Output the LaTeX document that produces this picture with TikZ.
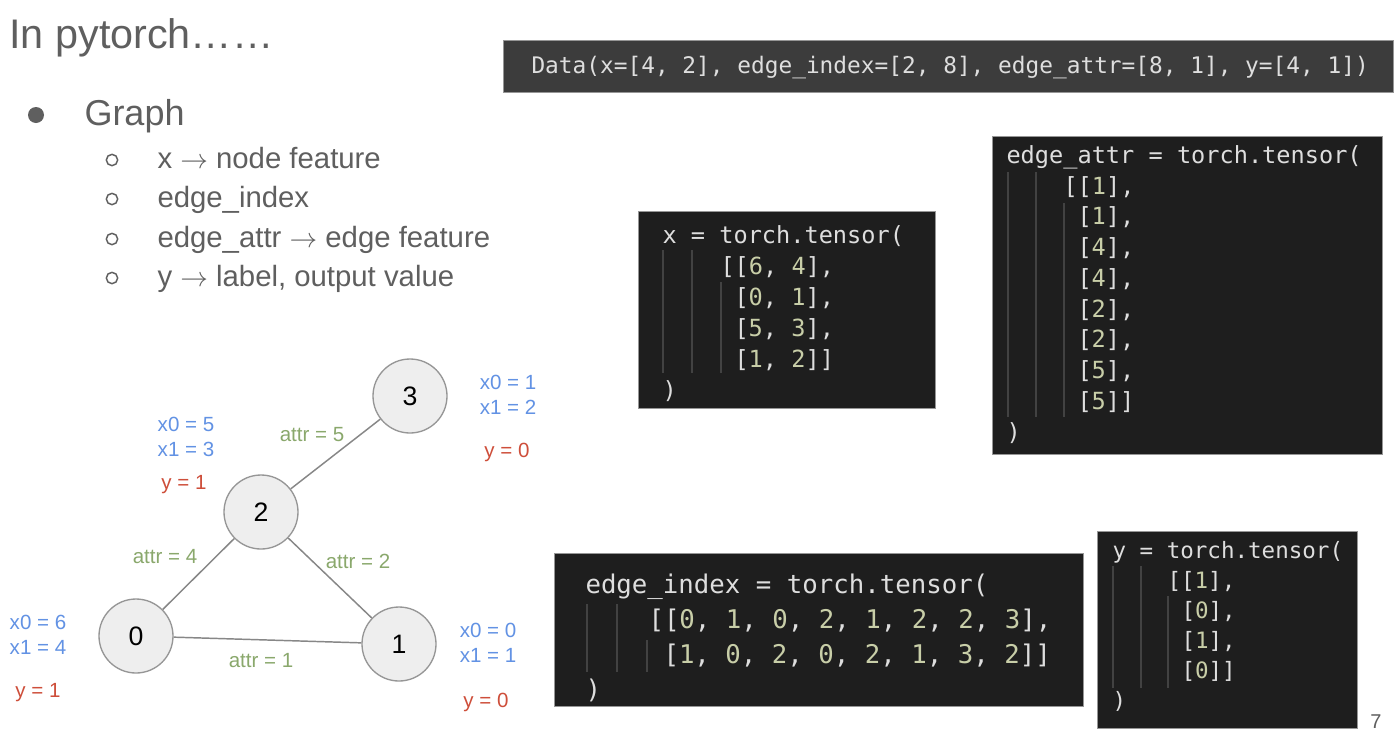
\documentclass[tikz,border=0pt]{standalone}
\usepackage{fontspec}
\setmainfont{Liberation Sans}
\setmonofont{DejaVu Sans Mono}
\usepackage{tikz}

\definecolor{slidegray}{RGB}{95,95,95}
\definecolor{featblue}{RGB}{98,146,228}
\definecolor{labred}{RGB}{206,78,58}
\definecolor{attrgreen}{RGB}{138,168,108}
\definecolor{nodefill}{RGB}{238,238,238}
\definecolor{nodeline}{RGB}{150,150,150}
\definecolor{edgegray}{RGB}{135,135,135}
\definecolor{codebg}{RGB}{30,30,30}
\definecolor{databg}{RGB}{60,60,60}
\definecolor{codetxt}{RGB}{222,222,222}
\definecolor{numcol}{RGB}{200,206,168}
\definecolor{guidegray}{RGB}{66,66,66}

\newcommand\nm[1]{\textcolor{numcol}{#1}}
\newcommand\ttsize[1]{\ttfamily\fontsize{#1}{#1}\selectfont}

\tikzset{every picture/.style={line width=0.75pt}}
\tikzset{
  gnode/.style={circle, draw=nodeline, fill=nodefill, line width=1pt, minimum size=55.5pt, inner sep=0pt, font=\fontsize{20}{20}\selectfont},
  gedge/.style={draw=edgegray, line width=1.1pt},
  glabel/.style={anchor=base, inner sep=0pt, font=\fontsize{15.4}{16}\selectfont},
  xlab/.style={glabel, text=featblue},
  ylab/.style={glabel, text=labred},
  alab/.style={glabel, text=attrgreen},
  codebox/.style={fill=codebg, draw=nodeline, line width=0.6pt},
  codeline/.style={anchor=base west, inner sep=0pt, text=codetxt},
  guide/.style={draw=guidegray, line width=0.9pt},
  slidetext/.style={anchor=base west, inner sep=0pt, text=slidegray},
}

\begin{document}
\begin{tikzpicture}[x=0.75pt,y=0.75pt,yscale=-1,xscale=1]
	\path[fill=white] (0,0) rectangle (1398,732);
	\useasboundingbox (0,0) rectangle (1398,732);

	% Title and bullets
	\node[slidetext, font=\fontsize{31}{32}\selectfont] (title) at (9,48) {In pytorch……};
	\node[circle, fill=slidegray, minimum size=12pt, inner sep=0pt] (bul) at (36,115) {};
	\node[slidetext, font=\fontsize{27}{28}\selectfont] (graph) at (84,125) {Graph};
	\foreach \yy/\name/\txt in {168/sx/{x $\rightarrow$ node feature},
	                            207/sei/{edge\_index},
	                            247/sea/{edge\_attr $\rightarrow$ edge feature},
	                            286/sy/{y $\rightarrow$ label, output value}}{
		\node[circle, draw=slidegray, line width=1.1pt, minimum size=8.5pt, inner sep=0pt] (b\name) at (112,\yy-8) {};
		\node[slidetext, font=\fontsize{22}{23}\selectfont] (\name) at (157,\yy) {\txt};
	}

	% Graph nodes
	\node[gnode] (n3) at (410,396) {3};
	\node[gnode] (n2) at (261,512) {2};
	\node[gnode] (n0) at (136,636) {0};
	\node[gnode] (n1) at (399,644) {1};
	\draw[gedge] (n2) -- (n3);
	\draw[gedge] (n0) -- (n2);
	\draw[gedge] (n2) -- (n1);
	\draw[gedge] (n0) -- (n1);

	% Edge labels
	\node[alab] (a5) at (312,441) {attr = 5};
	\node[alab] (a4) at (165,563) {attr = 4};
	\node[alab] (a2) at (358,568) {attr = 2};
	\node[alab] (a1) at (261,667) {attr = 1};

	% Node features and labels
	\node[xlab] (f2a) at (186,431) {x0 = 5};
	\node[xlab] (f2b) at (186,456) {x1 = 3};
	\node[ylab] (l2) at (184,489) {y = 1};
	\node[xlab] (f3a) at (508,389) {x0 = 1};
	\node[xlab] (f3b) at (508,414) {x1 = 2};
	\node[ylab] (l3) at (507,457) {y = 0};
	\node[xlab] (f0a) at (38,629) {x0 = 6};
	\node[xlab] (f0b) at (38,654) {x1 = 4};
	\node[ylab] (l0) at (38,697) {y = 1};
	\node[xlab] (f1a) at (488,637) {x0 = 0};
	\node[xlab] (f1b) at (488,662) {x1 = 1};
	\node[ylab] (l1) at (486,707) {y = 0};

	% Data summary
	\draw[fill=databg, draw=nodeline, line width=0.6pt] (503,40) rectangle (1393,92);
	\node[codeline, font=\ttsize{17.1}] (data) at (531,73) {Data(x=[4, 2], edge\_index=[2, 8], edge\_attr=[8, 1], y=[4, 1])};

	% x tensor
	\draw[codebox] (638,211) rectangle (935,408);
	\draw[guide] (663,250) -- (663,373) (692,250) -- (692,373) (721,282) -- (721,373);
	\begin{scope}[every node/.append style={codeline, font=\ttsize{17.7}}]
		\node (xl1) at (662,243) {x = torch.tensor(};
		\node (xl2) at (720,274) {[[\nm{6}, \nm{4}],};
		\node (xl3) at (734,305) {[\nm{0}, \nm{1}],};
		\node (xl4) at (734,336) {[\nm{5}, \nm{3}],};
		\node (xl5) at (734,367) {[\nm{1}, \nm{2}]]};
		\node (xl6) at (662,398) {)};
	\end{scope}

	% edge_attr tensor
	\draw[codebox] (992,136) rectangle (1382,454);
	\draw[guide] (1008,172) -- (1008,417) (1036,172) -- (1036,417) (1064,203) -- (1064,417);
	\begin{scope}[every node/.append style={codeline, font=\ttsize{17.7}}]
		\node (al1) at (1006,163) {edge\_attr = torch.tensor(};
		\node (al2) at (1063,194) {[[\nm{1}],};
		\foreach \v [count=\i from 3] in {1,4,4,2,2,5}{
			\node (al\i) at (1077,163+30.8*\i-30.8) {[\nm{\v}],};
		}
		\node (al9) at (1077,409) {[\nm{5}]]};
		\node (al10) at (1006,440) {)};
	\end{scope}

	% edge_index tensor
	\draw[codebox] (554,553) rectangle (1083,706);
	\draw[guide] (587,604) -- (587,672) (617,604) -- (617,672) (647,640) -- (647,672);
	\begin{scope}[every node/.append style={codeline, font=\ttsize{19.3}}]
		\node (el1) at (585,593) {edge\_index = torch.tensor(};
		\node (el2) at (648,628) {[[\nm{0}, \nm{1}, \nm{0}, \nm{2}, \nm{1}, \nm{2}, \nm{2}, \nm{3}],};
		\node (el3) at (663,663) {[\nm{1}, \nm{0}, \nm{2}, \nm{0}, \nm{2}, \nm{1}, \nm{3}, \nm{2}]]};
		\node (el4) at (585,698) {)};
	\end{scope}

	% y tensor
	\draw[codebox] (1097,531) rectangle (1357,728);
	\draw[guide] (1113,566) -- (1113,688) (1141,566) -- (1141,688) (1168,596) -- (1168,688);
	\begin{scope}[every node/.append style={codeline, font=\ttsize{16.9}}]
		\node (yl1) at (1112,558) {y = torch.tensor(};
		\node (yl2) at (1167,588) {[[\nm{1}],};
		\node (yl3) at (1181,618) {[\nm{0}],};
		\node (yl4) at (1181,648) {[\nm{1}],};
		\node (yl5) at (1181,678) {[\nm{0}]]};
		\node (yl6) at (1112,708) {)};
	\end{scope}

	% Page number
	\node[anchor=base, inner sep=0pt, text=slidegray, font=\fontsize{15}{15}\selectfont] (pg) at (1376,728) {7};

\end{tikzpicture}
\end{document}
